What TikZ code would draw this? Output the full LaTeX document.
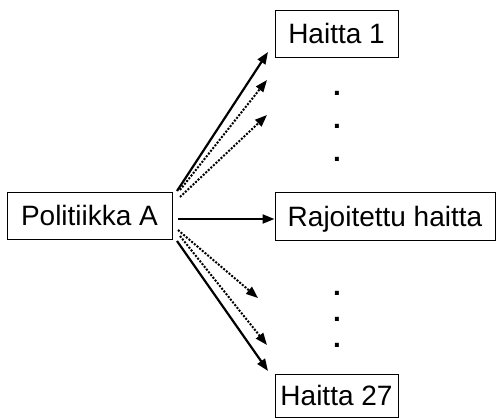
\documentclass[tikz,border=0pt]{standalone}
\usepackage{fontspec}
\setmainfont{Liberation Sans}
\usetikzlibrary{arrows.meta}
\begin{document}
\begin{tikzpicture}[x=1pt,y=-1pt,
  box/.style={draw=black,line width=1pt,rectangle,inner sep=0pt,
    font=\fontsize{28}{28}\selectfont,text height=20pt,text depth=0pt},
  solidarrow/.style={line width=2.2pt,-{Triangle[length=12pt,width=9pt]}},
  dotarrow/.style={line width=2pt,dash pattern=on 2pt off 1.5pt,
    -{Triangle[length=12pt,width=9pt]}},
  dotmark/.style={inner sep=0pt,anchor=base,font=\fontsize{28}{28}\selectfont\bfseries}]
  \useasboundingbox (0,0) rectangle (496,418);

  % boxes
  \node[box,minimum width=165pt,minimum height=47pt] (p) at (89.5,215.5) {Politiikka A};
  \node[box,minimum width=123pt,minimum height=47pt] (h1) at (336.5,33.5) {Haitta 1};
  \node[box,minimum width=220pt,minimum height=48pt] (r) at (385,216) {Rajoitettu haitta};
  \node[box,minimum width=123pt,minimum height=43pt] (h27) at (336.5,395.5) {Haitta 27};

  % arrow ends
  \coordinate (a1) at (177,191);  \coordinate (b1) at (268,52);
  \coordinate (a2) at (180,190);  \coordinate (b2) at (267,80);
  \coordinate (a3) at (180,197);  \coordinate (b3) at (267,115);
  \coordinate (a4) at (178,219);
  \coordinate (a5) at (178,230);  \coordinate (b5) at (258,298);
  \coordinate (a6) at (180,236);  \coordinate (b6) at (267,345);
  \coordinate (a7) at (177,241);  \coordinate (b7) at (268,371);

  % arrows
  \draw[solidarrow] (a1) -- (b1);
  \draw[dotarrow] (a2) -- (b2);
  \draw[dotarrow] (a3) -- (b3);
  \draw[solidarrow] (a4) -- (a4 -| r.west);
  \draw[dotarrow] (a5) -- (b5);
  \draw[dotarrow] (a6) -- (b6);
  \draw[solidarrow] (a7) -- (b7);

  % ellipsis dots
  \foreach \y [count=\i] in {95,128,161} \node[dotmark] (u\i) at (337,\y) {.};
  \foreach \y [count=\i] in {295,321,347} \node[dotmark] (l\i) at (337,\y) {.};
\end{tikzpicture}
\end{document}
